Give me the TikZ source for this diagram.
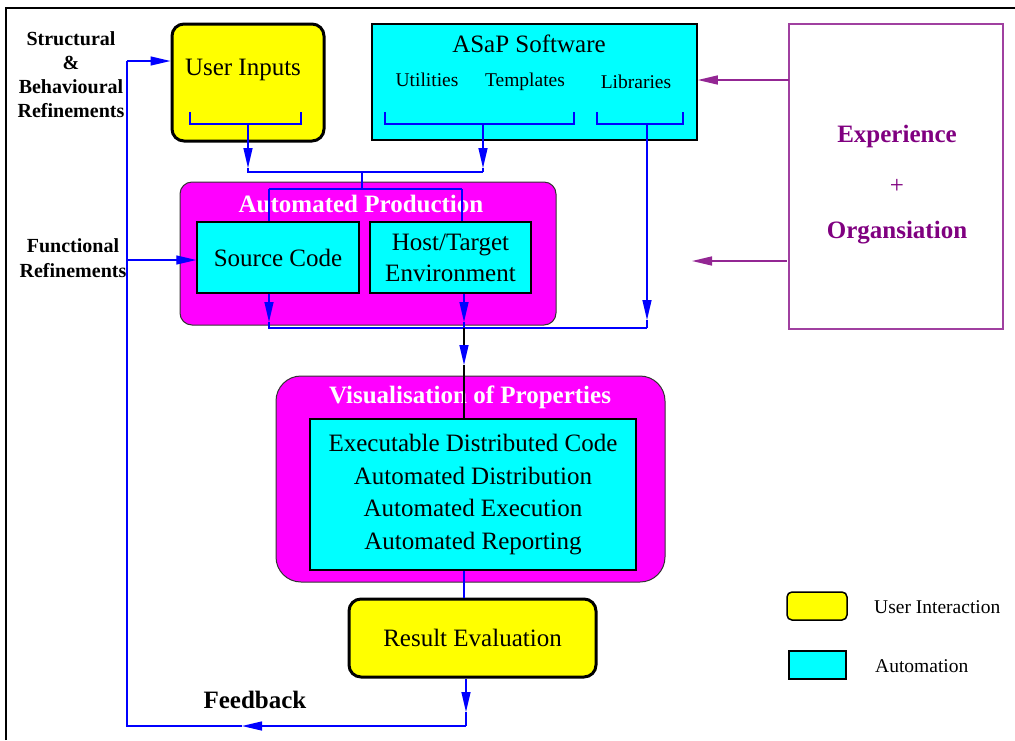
\documentclass[tikz,border=0pt]{standalone}
\usepackage{fontspec}
\setmainfont{Liberation Serif}
\usetikzlibrary{arrows.meta}
\definecolor{expcol}{RGB}{128,0,128}
\definecolor{userfill}{RGB}{255,255,0}
\definecolor{autofill}{RGB}{0,255,255}
\definecolor{stagefill}{RGB}{255,0,255}
\definecolor{linkcol}{RGB}{0,0,255}

\begin{document}
\begin{tikzpicture}[x = 1pt, y = -1pt,
  bigtext/.style = {font = \fontsize{25}{31}\selectfont, inner sep = 0},
  boldtext/.style = {font = \fontsize{25}{31}\selectfont\bfseries, inner sep = 0},
  sidetext/.style = {font = \fontsize{20}{24}\selectfont\bfseries, align = center, inner sep = 0},
  smalltext/.style = {font = \fontsize{19.5}{24}\selectfont, inner sep = 0},
  userbox/.style = {draw, fill = userfill, line width = 3, rounded corners = 12, inner sep = 0},
  autobox/.style = {draw, fill = autofill, line width = 1.5, inner sep = 0},
  stagebox/.style = {draw = black!80, fill = stagefill, line width = 1, inner sep = 0},
  link/.style = {linkcol, line width = 1.3},
  headed/.style = {-{Triangle[length = 20pt, width = 9pt]}}]
\useasboundingbox (0,0) rectangle (1015,740);
\draw [line width = 2] (6,740) -- (6,8) -- (1015,8);

\node (userin) at (248,82.5) [userbox, minimum width = 152, minimum height = 117] {};
\node (userlbl) at (243,75) [bigtext, anchor = base] {User Inputs};
\node (asap) at (534.5,82) [autobox, minimum width = 325, minimum height = 116] {};
\node (asaplbl) at (529,52) [bigtext, anchor = base] {ASaP Software};
\node (utils) at (427,86) [smalltext, anchor = base] {Utilities};
\node (templ) at (525,86) [smalltext, anchor = base] {Templates};
\node (libs) at (636,88) [smalltext, anchor = base] {Libraries};
\node (exp) at (896,176.5) [draw = expcol!75, line width = 1.5, minimum width = 214, minimum height = 305] {};
\node (explbl) at (897,142) [boldtext, text = expcol, anchor = base] {Experience};
\node (plus) at (897,186) [bigtext, text = expcol] {+};
\node (orglbl) at (897,238) [boldtext, text = expcol, anchor = base] {Organsiation};

\node (prod) at (368,253.5) [stagebox, rounded corners = 12, minimum width = 376, minimum height = 143] {};
\node (prodlbl) at (361,212) [boldtext, text = white, anchor = base] {Automated Production};
\node (src) at (278,257.5) [autobox, bigtext, minimum width = 162, minimum height = 71] {Source Code};
\node (host) at (450.5,257.5) [autobox, bigtext, align = center, minimum width = 161, minimum height = 71] {Host/Target\\Environment};

\node (vis) at (470.5,479) [stagebox, rounded corners = 25, minimum width = 389, minimum height = 206] {};
\node (vislbl) at (470,403) [boldtext, text = white, anchor = base] {Visualisation of Properties};
\node (vcode) at (473,494.5) [autobox, font = \fontsize{25}{32.5}\selectfont, align = center, minimum width = 326, minimum height = 151] {Executable Distributed Code\\Automated Distribution\\Automated Execution\\Automated Reporting};

\node (reseval) at (472.5,638) [userbox, bigtext, minimum width = 247, minimum height = 78] {Result Evaluation};
\node (fback) at (255,708) [boldtext, anchor = base] {Feedback};
\node (structlbl) at (71,74.5) [sidetext] {Structural\\\&\\Behavioural\\Refinements};
\node (funclbl) at (73,258) [sidetext, font = \fontsize{20}{25}\selectfont\bfseries] {Functional\\Refinements};

\node (keyuser) at (817,606) [userbox, line width = 1.5, rounded corners = 5, minimum width = 60, minimum height = 28] {};
\node (keyuserlbl) at (874,613) [smalltext, anchor = base west] {User Interaction};
\node (keyauto) at (817.5,665) [autobox, minimum width = 57, minimum height = 28] {};
\node (keyautolbl) at (875,672) [smalltext, anchor = base west] {Automation};

\draw [link] (190,112) -- (190,124) -- (301,124) -- (301,112);
\draw [link] (385,112) -- (385,124) -- (574,124) -- (574,112);
\draw [link] (597,112) -- (597,124) -- (683,124) -- (683,112);

\coordinate (uistem) at (248,124);
\coordinate (uitip) at (248,168);
\coordinate (uijoin) at (248,172);
\coordinate (swstem) at (483,124);
\coordinate (swtip) at (483,168);
\coordinate (swjoin) at (483,172);
\coordinate (midtop) at (362,172);
\coordinate (midlow) at (362,189);
\coordinate (srcin) at (269,189);
\coordinate (hostin) at (462,189);
\draw [link, headed] (uistem) -- (uitip);
\draw [link] (uitip) -- (uijoin) -- (swjoin);
\draw [link, headed] (swstem) -- (swtip);
\draw [link] (swtip) -- (swjoin);
\draw [link] (midtop) -- (midlow);
\draw [link] (srcin) -- (hostin);
\draw [link] (srcin) -- (srcin |- src.north);
\draw [link] (hostin) -- (hostin |- host.north);

\coordinate (srctip) at (269,322);
\coordinate (srcjoin) at (269,328);
\coordinate (hosttip) at (464,322);
\coordinate (hostjoin) at (464,328);
\coordinate (libstem) at (647,124);
\coordinate (libtip) at (647,320);
\coordinate (libjoin) at (647,328);
\coordinate (vistip) at (464,365);
\draw [link, headed] (srctip |- src.south) -- (srctip);
\draw [link] (srctip) -- (srcjoin) -- (libjoin);
\draw [link, headed] (hosttip |- host.south) -- (hosttip);
\draw [link] (hosttip) -- (hostjoin);
\draw [link, headed] (libstem) -- (libtip);
\draw [link] (libtip) -- (libjoin);
\draw [line width = 1.3, -{Triangle[length = 20pt, width = 9pt, color = linkcol]}] (hostjoin) -- (vistip);
\draw [line width = 1.3] (vistip) -- (vistip |- vcode.north);
\draw [link] (vistip |- vcode.south) -- (vistip |- reseval.north);

\coordinate (evaltip) at (466,712);
\coordinate (evaljoin) at (466,726);
\coordinate (fbtip) at (242,726);
\coordinate (fbcorner) at (127,726);
\coordinate (fbtop) at (127,61);
\coordinate (fbmid) at (127,260);
\draw [link, headed] (evaltip |- reseval.south) -- (evaltip);
\draw [link] (evaltip) -- (evaljoin);
\draw [link, headed] (evaljoin) -- (fbtip);
\draw [link] (fbtip) -- (fbcorner) -- (fbtop);
\draw [link, headed] (fbtop) -- (fbtop -| userin.west);
\draw [link, headed] (fbmid) -- (fbmid -| src.west);

\coordinate (expup) at (789,80);
\coordinate (explow) at (787,261);
\coordinate (prodhint) at (692,261);
\draw [expcol!85, line width = 1.5, headed] (expup) -- (expup -| asap.east);
\draw [expcol!85, line width = 1.5, headed] (explow) -- (prodhint);
\end{tikzpicture}
\end{document}
